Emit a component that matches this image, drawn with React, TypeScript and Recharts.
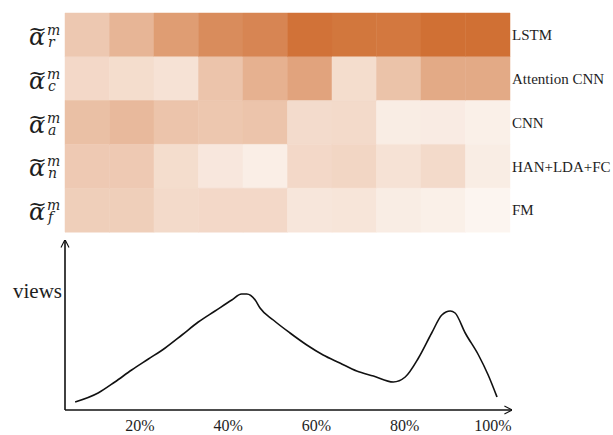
import React from 'react';
import { BarChart, Bar, Cell, XAxis, YAxis, LineChart, Line } from 'recharts';

// ---- Heatmap data ----
const models = ['LSTM', 'Attention CNN', 'CNN', 'HAN+LDA+FC', 'FM'];
const symbolSubs = ['r', 'c', 'a', 'n', 'f'];
const columnKeys = ['c0', 'c1', 'c2', 'c3', 'c4', 'c5', 'c6', 'c7', 'c8', 'c9'];
const lstmWeights = [0.33, 0.47, 0.65, 0.77, 0.82, 0.96, 0.93, 0.92, 0.98, 0.98];
const attnCnnWeights = [0.21, 0.18, 0.14, 0.36, 0.5, 0.6, 0.18, 0.37, 0.55, 0.55];
const cnnWeights = [0.39, 0.44, 0.36, 0.34, 0.36, 0.19, 0.2, 0.06, 0.07, 0.04];
const hanWeights = [0.32, 0.32, 0.18, 0.1, 0.05, 0.21, 0.23, 0.14, 0.2, 0.06];
const fmWeights = [0.28, 0.28, 0.2, 0.21, 0.21, 0.11, 0.12, 0.06, 0.04, 0.0];
const weightRows = [lstmWeights, attnCnnWeights, cnnWeights, hanWeights, fmWeights];

// ---- Views curve data ----
const viewPositions = [5.3, 10.5, 14.3, 18.1, 21.9, 25.7, 29.5, 33.2, 37.0, 40.8, 43.0, 44.2, 46.1, 47.2, 50.2, 54.0, 57.8, 61.5, 65.3, 69.1, 72.9, 77.4, 80.1, 83.1, 86.1, 88.4, 90.3, 91.4, 93.7, 96.7, 98.9, 100.9];
const viewValues = [8, 17, 28, 40, 51, 62, 75, 88, 99, 110, 116, 116, 110, 102, 90, 77, 65, 55, 47, 39, 34, 28, 33, 52, 77, 95, 99, 97, 77, 55, 35, 13];
const xTicks = [20, 40, 60, 80, 100];

const LIGHT = [252, 245, 240];
const DARK = [207, 109, 48];
const heatColor = (t: number) => {
  const c = LIGHT.map((l, i) => Math.round(l + (DARK[i] - l) * t));
  return `rgb(${c[0]},${c[1]},${c[2]})`;
};

const heatData = models.map((m) => {
  const row: any = { model: m };
  columnKeys.forEach((k) => (row[k] = 1));
  return row;
});

const viewData = viewPositions.map((p, i) => ({ pos: p, views: viewValues[i] }));

const SymTick = (props: any) => {
  const { x, y, payload } = props;
  const idx = models.indexOf(payload.value);
  const sub = symbolSubs[idx];
  return (
    <text fontFamily="DejaVu Serif" fill="#1e1e1e">
      <tspan x={x - 36} y={y + 10} fontStyle="italic" fontSize={24}>α</tspan>
      <tspan x={x - 37} y={y + 1} fontSize={20} textLength={19} lengthAdjust="spacingAndGlyphs">~</tspan>
      <tspan x={x - 18} y={y} fontStyle="italic" fontSize={14}>m</tspan>
      <tspan x={x - 17} y={y + 12} fontStyle="italic" fontSize={14}>{sub}</tspan>
    </text>
  );
};

const ModelTick = (props: any) => {
  const { x, y, payload } = props;
  return (
    <text x={x} y={y} dy="0.35em" fontFamily="Liberation Serif" fontSize={15} fill="#1e1e1e" textAnchor="start">
      {payload.value}
    </text>
  );
};

export default function App() {
  return (
    <div style={{ position: 'absolute', left: 0, top: 0, width: 613, height: 435, background: '#fff' }}>
      <svg width={0} height={0} style={{ position: 'absolute' }}>
        <defs>
          <marker id="arrowHead" viewBox="0 0 10 10" refX="9.5" refY="5" markerWidth="8" markerHeight="13" markerUnits="userSpaceOnUse" orient="auto-start-reverse">
            <path d="M0,0 L10,5 L0,10" fill="none" stroke="#111" strokeWidth={1.4} />
          </marker>
        </defs>
      </svg>
      <div style={{ position: 'absolute', left: 0, top: 0 }}>
        <BarChart width={613} height={240} data={heatData} layout="vertical" barCategoryGap={0} margin={{ top: 13, right: 0, bottom: 8, left: 0 }}>
          <XAxis type="number" domain={[0, 10]} hide />
          <YAxis yAxisId="left" type="category" dataKey="model" width={65} tickLine={false} axisLine={false} tickSize={0} tickMargin={0} interval={0} tick={<SymTick />} />
          <YAxis yAxisId="right" orientation="right" type="category" dataKey="model" width={103} tickLine={false} axisLine={false} tickSize={0} tickMargin={2} interval={0} tick={<ModelTick />} />
          {columnKeys.map((k, c) => (
            <Bar key={k} dataKey={k} stackId="h" yAxisId="left" isAnimationActive={false}>
              {weightRows.map((w, r) => (
                <Cell key={r} fill={heatColor(w[c])} stroke={heatColor(w[c])} strokeWidth={0.5} />
              ))}
            </Bar>
          ))}
        </BarChart>
      </div>
      <div style={{ position: 'absolute', left: 0, top: 230 }}>
        <LineChart width={613} height={205} data={viewData} margin={{ top: 10, right: 101, bottom: 0, left: 0 }}>
          <XAxis type="number" dataKey="pos" domain={[3, 104.3]} allowDataOverflow ticks={xTicks} interval={0} tickFormatter={(v: number) => `${v}%`} height={25} tickLine={false} tickSize={0} tickMargin={10} axisLine={{ stroke: '#111', strokeWidth: 1.6, markerEnd: 'url(#arrowHead)' }} tick={{ fontFamily: 'Liberation Serif', fontSize: 16, fill: '#1e1e1e' }} />
          <YAxis type="number" domain={[0, 170]} ticks={[119]} interval={0} tickFormatter={() => 'views'} width={65} tickLine={false} tickSize={0} tickMargin={3} axisLine={{ stroke: '#111', strokeWidth: 1.6, markerStart: 'url(#arrowHead)' }} tick={{ fontFamily: 'Liberation Serif', fontSize: 21, fill: '#1e1e1e' }} />
          <Line dataKey="views" type="monotone" stroke="#111" strokeWidth={1.6} dot={false} isAnimationActive={false} />
        </LineChart>
      </div>
    </div>
  );
}
